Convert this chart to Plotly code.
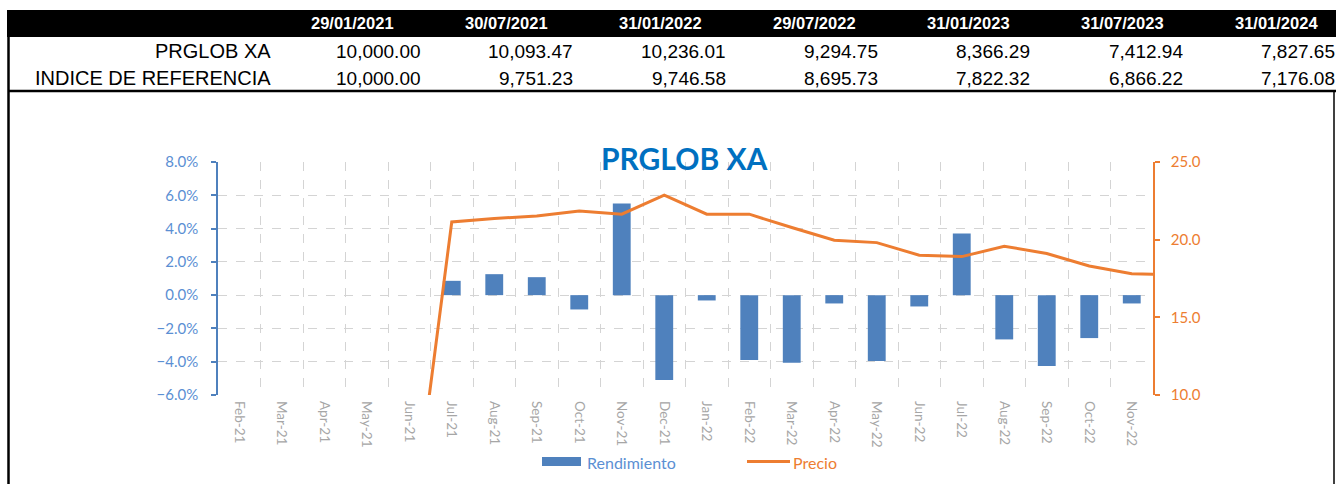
import plotly.graph_objects as go

# ---- summary table ----
fechas = ["29/01/2021", "30/07/2021", "31/01/2022", "29/07/2022",
          "31/01/2023", "31/07/2023", "31/01/2024"]
fila_fondo = ["10,000.00", "10,093.47", "10,236.01", "9,294.75",
              "8,366.29", "7,412.94", "7,827.65"]
fila_indice = ["10,000.00", "9,751.23", "9,746.58", "8,695.73",
               "7,822.32", "6,866.22", "7,176.08"]
nombres_filas = ["PRGLOB XA", "INDICE DE REFERENCIA"]

# ---- monthly chart ----
titulo = "PRGLOB XA"
meses = ["Feb-21", "Mar-21", "Apr-21", "May-21", "Jun-21", "Jul-21", "Aug-21",
         "Sep-21", "Oct-21", "Nov-21", "Dec-21", "Jan-22", "Feb-22", "Mar-22",
         "Apr-22", "May-22", "Jun-22", "Jul-22", "Aug-22", "Sep-22", "Oct-22",
         "Nov-22"]
rendimiento = [None, None, None, None, None, 0.0086, 0.0126, 0.0108, -0.0086,
               0.0550, -0.0510, -0.0032, -0.0390, -0.0406, -0.0050, -0.0396,
               -0.0068, 0.0370, -0.0266, -0.0426, -0.0258, -0.0050]
# price series carries one extra month past the last labelled category
meses_precio = meses + ["Dec-22"]
precio = [0, 0, 0, 0, 0, 21.14, 21.36, 21.53, 21.85, 21.64, 22.86, 21.64,
          21.64, 20.78, 19.96, 19.81, 19.00, 18.91, 19.58, 19.11, 18.31,
          17.80, 17.74]

W, H = 1336, 484
AZUL = "#4f81bd"
AZUL_TXT = "#5b8fd3"
NARANJA = "#ed7d31"
GRIS_GRID = "#d4d4d4"


def px(x):
    return x / W


def py(y):
    return 1 - y / H


fig = go.Figure()
fig.add_trace(go.Bar(x=meses, y=rendimiento, marker_color=AZUL,
                     marker_line_width=0, width=0.42, name="Rendimiento",
                     yaxis="y", showlegend=False))
fig.add_trace(go.Scatter(x=meses_precio, y=precio, mode="lines",
                         line=dict(color=NARANJA, width=3), name="Precio",
                         yaxis="y2", showlegend=False))

shapes = []
annotations = []

# table frame
shapes.append(dict(type="rect", xref="paper", yref="paper",
                   x0=px(7), x1=px(1336), y0=py(37), y1=py(10),
                   fillcolor="black", line_width=0, layer="below"))
shapes.append(dict(type="line", xref="paper", yref="paper",
                   x0=px(8.5), x1=px(8.5), y0=py(37), y1=py(484),
                   line=dict(color="black", width=2.5)))
shapes.append(dict(type="line", xref="paper", yref="paper",
                   x0=px(8), x1=px(1336), y0=py(91), y1=py(91),
                   line=dict(color="black", width=2.5)))
shapes.append(dict(type="line", xref="paper", yref="paper",
                   x0=px(1334), x1=px(1334), y0=py(91), y1=py(484),
                   line=dict(color="black", width=1.5)))

FUENTE_TABLA = "Liberation Sans Narrow, Arial Narrow, Liberation Sans, sans-serif"

for i, f in enumerate(fechas):
    annotations.append(dict(xref="paper", yref="paper", x=px(352 + i * 154.1),
                            y=py(23.5), text=f, showarrow=False,
                            xanchor="center", yanchor="middle",
                            font=dict(family=FUENTE_TABLA, size=16.5,
                                      color="white", weight="bold")))

for fila, valores, ycen in ((nombres_filas[0], fila_fondo, 51),
                            (nombres_filas[1], fila_indice, 78)):
    annotations.append(dict(xref="paper", yref="paper", x=px(273), y=py(ycen),
                            text=fila, showarrow=False, xanchor="right",
                            yanchor="middle",
                            font=dict(family=FUENTE_TABLA, size=20,
                                      color="black")))
    for i, v in enumerate(valores):
        annotations.append(dict(xref="paper", yref="paper",
                                x=px(423 + i * 152.3), y=py(ycen), text=v,
                                showarrow=False, xanchor="right",
                                yanchor="middle",
                                font=dict(family=FUENTE_TABLA, size=19,
                                          color="black")))

# chart title
annotations.append(dict(xref="paper", yref="paper", x=px(684), y=py(158),
                        text=titulo, showarrow=False, xanchor="center",
                        yanchor="middle",
                        font=dict(family="Lato, sans-serif", size=30,
                                  color="#0070c0", weight="bold")))

# legend
shapes.append(dict(type="rect", xref="paper", yref="paper",
                   x0=px(542), x1=px(581), y0=py(466), y1=py(457),
                   fillcolor=AZUL, line_width=0))
annotations.append(dict(xref="paper", yref="paper", x=px(585), y=py(462),
                        text="Rendimiento", showarrow=False, xanchor="left",
                        yanchor="middle",
                        font=dict(family="Lato, sans-serif", size=16,
                                  color=AZUL_TXT)))
shapes.append(dict(type="line", xref="paper", yref="paper",
                   x0=px(747), x1=px(790), y0=py(461.5), y1=py(461.5),
                   line=dict(color=NARANJA, width=3)))
annotations.append(dict(xref="paper", yref="paper", x=px(791), y=py(462),
                        text="Precio", showarrow=False, xanchor="left",
                        yanchor="middle",
                        font=dict(family="Lato, sans-serif", size=16,
                                  color=NARANJA)))

fig.update_layout(
    template="none",
    width=W, height=H, autosize=False,
    margin=dict(l=0, r=0, t=0, b=0, pad=0),
    paper_bgcolor="white", plot_bgcolor="white",
    bargap=0.58, showlegend=False,
    shapes=shapes, annotations=annotations,
    xaxis=dict(domain=[px(218), px(1153)], type="category",
               categoryorder="array", categoryarray=meses_precio,
               range=[-0.5, 21.5], tickson="boundaries", automargin=False,
               showgrid=True, gridcolor=GRIS_GRID, griddash="dash",
               gridwidth=1, tickangle=90, ticks="", showline=False,
               zeroline=False, anchor="y", ticklabelstandoff=5,
               tickfont=dict(family="Lato, sans-serif", size=13.5,
                             color="#a6a6a6")),
    yaxis=dict(domain=[py(395), py(162)], range=[-0.06, 0.08], dtick=0.02,
               tick0=0, tickformat=".1%", showgrid=True, gridcolor=GRIS_GRID,
               griddash="dash", gridwidth=1, zeroline=False, showline=True,
               automargin=False,
               linecolor=AZUL, linewidth=1.5, ticks="outside", ticklen=5,
               tickcolor=AZUL, tickwidth=1.5, ticklabelstandoff=10,
               tickfont=dict(family="Lato, sans-serif", size=15,
                             color=AZUL_TXT)),
    yaxis2=dict(overlaying="y", side="right", anchor="x", range=[10, 25],
                dtick=5, tick0=10, tickformat=".1f", showgrid=False,
                automargin=False,
                zeroline=False, showline=True, linecolor=NARANJA,
                linewidth=1.5, ticks="outside", ticklen=5,
                tickcolor=NARANJA, tickwidth=1.5, ticklabelstandoff=8,
                tickfont=dict(family="Lato, sans-serif", size=15,
                              color=NARANJA)),
)

fig.write_html("out.html")
